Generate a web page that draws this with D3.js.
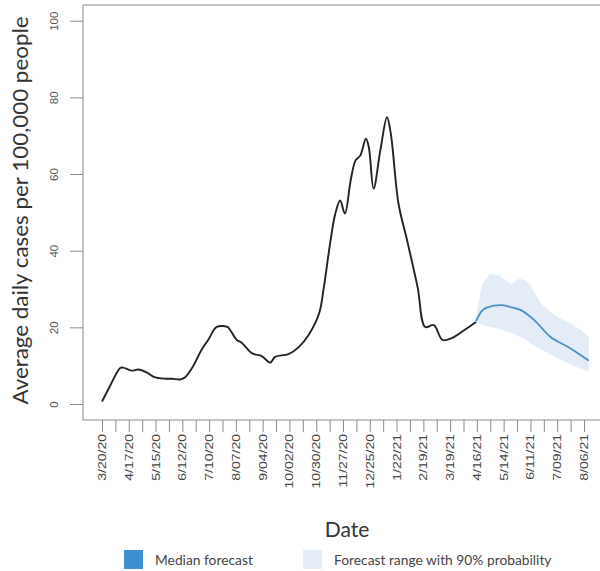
<!DOCTYPE html>
<html>
<head>
<meta charset="utf-8">
<script src="https://cdn.jsdelivr.net/npm/d3@7"></script>
<style>
    body { margin: 0; background: #fff; }
    svg { display: block; }
    .tick text { font-family: "Liberation Sans", Arial, sans-serif; fill: #555; }
    .title { font-family: Lato, "Open Sans", sans-serif; fill: #333; }
    .legend text { font-family: Lato, "Open Sans", sans-serif; fill: #444; font-size: 13.8px; }
</style>
</head>
<body>
<div id="chart"></div>
<script>
// ! OBSERVED CASES ! //
const obsDates = ["2020-03-20", "2020-03-28", "2020-04-08", "2020-04-11", "2020-04-20", "2020-04-27", "2020-05-06",
    "2020-05-14", "2020-05-25", "2020-06-01", "2020-06-10", "2020-06-15", "2020-06-22", "2020-07-02", "2020-07-09",
    "2020-07-18", "2020-07-29", "2020-08-01", "2020-08-08", "2020-08-13", "2020-08-24", "2020-09-03", "2020-09-12",
    "2020-09-17", "2020-10-01", "2020-10-12", "2020-10-22", "2020-11-02", "2020-11-07", "2020-11-14", "2020-11-19",
    "2020-11-24", "2020-11-29", "2020-12-05", "2020-12-10", "2020-12-15", "2020-12-21", "2020-12-24", "2020-12-29",
    "2021-01-05", "2021-01-12", "2021-01-16", "2021-01-24", "2021-02-02", "2021-02-13", "2021-02-21", "2021-03-02",
    "2021-03-11", "2021-03-20", "2021-04-03", "2021-04-15"];
const obsCases = [0.6, 4.5, 9.4, 9.5, 8.7, 9.0, 8.2,
    7.0, 6.6, 6.6, 6.4, 7.0, 9.3, 14.1, 16.7,
    20.1, 20.1, 19.3, 16.7, 16.0, 13.2, 12.5, 10.8,
    12.3, 13.0, 14.9, 18.0, 23.6, 30.5, 42.7, 49.7,
    53.1, 49.7, 58.3, 63.5, 64.8, 69.2, 67.0, 56.2,
    66.1, 74.8, 70.5, 52.3, 42.7, 30.5, 20.1, 20.6,
    16.7, 17.1, 19.3, 21.4];

// ! MEDIAN FORECAST ! //
const fcDates = ["2021-04-15", "2021-04-22", "2021-04-27", "2021-05-11", "2021-05-21", "2021-06-01", "2021-06-15",
    "2021-07-02", "2021-07-23", "2021-08-11"];
const fcMedian = [21.6, 24.5, 25.2, 25.8, 25.3, 24.5, 21.9, 17.5, 14.5, 11.3];

// ! 90% RANGE ! //
const bandDates = ["2021-04-15", "2021-04-20", "2021-04-22", "2021-04-30", "2021-05-09", "2021-05-18", "2021-05-23",
    "2021-05-30", "2021-06-06", "2021-06-11", "2021-06-22", "2021-07-06", "2021-07-20", "2021-08-03", "2021-08-11"];
const bandHigh = [22.5, 29.5, 31.4, 34.0, 33.6, 31.9, 31.4, 32.7, 32.3, 31.0, 26.2, 23.2, 21.4, 19.3, 17.5];
const bandLow = [21.2, 20.8, 20.6, 20.1, 19.6, 18.9, 18.5, 17.7, 16.7, 15.8, 14.3, 12.3, 10.6, 9.2, 8.4];

// ! AXIS TICKS ! //
const yTicks = [0, 20, 40, 60, 80, 100];
const xTickLabels = ["3/20/20", "4/17/20", "5/15/20", "6/12/20", "7/10/20", "8/07/20", "9/04/20", "10/02/20",
    "10/30/20", "11/27/20", "12/25/20", "1/22/21", "2/19/21", "3/19/21", "4/16/21", "5/14/21", "6/11/21",
    "7/09/21", "8/06/21"];

const legendItems = [
    { label: "Median forecast", color: "#3d8fd3" },
    { label: "Forecast range with 90% probability", color: "#e3ecf7" },
];

const width = 600;
const height = 571;
const box = { left: 83, right: 601, top: 5, bottom: 420 };

const parseISO = d3.utcParse("%Y-%m-%d");
const parseLabel = d3.utcParse("%m/%d/%y");
const tickDates = xTickLabels.map(parseLabel);

const svg = d3.select("#chart").append("svg").attr("width", width).attr("height", height);

// ! SCALES ! //
const xScale = d3
    .scaleUtc()
    .domain([tickDates[0], tickDates[tickDates.length - 1]])
    .range([102, 584]);

const yScale = d3.scaleLinear().domain([0, 100]).range([404, 20.7]);

// ! PLOT BOX ! //
svg.append("rect")
    .attr("x", box.left)
    .attr("y", box.top)
    .attr("width", box.right - box.left)
    .attr("height", box.bottom - box.top)
    .attr("fill", "none")
    .attr("stroke", "#8a8a8a")
    .attr("stroke-width", 1);

// ! Y AXIS ! //
const yAxis = d3.axisLeft(yScale).tickValues(yTicks).tickSize(13).tickPadding(8);
const yG = svg.append("g")
    .attr("transform", `translate(${box.left},0)`)
    .call(yAxis);
yG.select(".domain").remove();
yG.selectAll(".tick line").attr("stroke", "#8a8a8a");
yG.selectAll(".tick text")
    .attr("font-size", 11.5)
    .attr("text-anchor", "middle")
    .attr("dy", null)
    .attr("x", null)
    .attr("transform", "translate(-25,0) rotate(-90)")
    .attr("y", 0);

// ! X AXIS (every 14 days, labels every 28) ! //
const start = tickDates[0];
const end = tickDates[tickDates.length - 1];
const minorTicks = d3.utcDay.range(start, d3.utcDay.offset(end, 1), 14);
const xAxis = d3.axisBottom(xScale).tickValues(minorTicks).tickSize(12).tickFormat("");
const xG = svg.append("g")
    .attr("transform", `translate(0,${box.bottom})`)
    .call(xAxis);
xG.select(".domain").remove();
xG.selectAll(".tick line").attr("stroke", "#8a8a8a");

svg.append("g")
    .selectAll("text")
    .data(xTickLabels)
    .enter()
    .append("text")
    .attr("transform", (d, i) => `translate(${xScale(tickDates[i]) + 4},${box.bottom + 14}) rotate(-90) scale(1.22,1)`)
    .attr("text-anchor", "end")
    .attr("font-family", "Liberation Sans, Arial, sans-serif")
    .attr("font-size", 11.5)
    .attr("fill", "#444")
    .text((d) => d);

// ! FORECAST BAND ! //
const band = bandDates.map((d, i) => ({ date: parseISO(d), lo: bandLow[i], hi: bandHigh[i] }));
svg.append("path")
    .datum(band)
    .attr("fill", "#e3ecf7")
    .attr("d", d3.area()
        .x((d) => xScale(d.date))
        .y0((d) => yScale(d.lo))
        .y1((d) => yScale(d.hi))
        .curve(d3.curveLinear));

// ! OBSERVED LINE ! //
const obs = obsDates.map((d, i) => ({ date: parseISO(d), v: obsCases[i] }));
svg.append("path")
    .datum(obs)
    .attr("fill", "none")
    .attr("stroke", "#222")
    .attr("stroke-width", 1.9)
    .attr("stroke-linejoin", "round")
    .attr("d", d3.line()
        .x((d) => xScale(d.date))
        .y((d) => yScale(d.v))
        .curve(d3.curveCatmullRom.alpha(0.5)));

// ! MEDIAN LINE ! //
const fc = fcDates.map((d, i) => ({ date: parseISO(d), v: fcMedian[i] }));
svg.append("path")
    .datum(fc)
    .attr("fill", "none")
    .attr("stroke", "#4a8fc6")
    .attr("stroke-width", 1.8)
    .attr("d", d3.line()
        .x((d) => xScale(d.date))
        .y((d) => yScale(d.v))
        .curve(d3.curveCatmullRom.alpha(0.5)));

// ! TITLES ! //
svg.append("text")
    .attr("class", "title")
    .attr("font-size", 20.5)
    .attr("text-anchor", "middle")
    .attr("textLength", 388)
    .attr("lengthAdjust", "spacingAndGlyphs")
    .attr("transform", `translate(28,${(box.top + box.bottom) / 2 - 2}) rotate(-90)`)
    .text("Average daily cases per 100,000 people");

svg.append("text")
    .attr("class", "title")
    .attr("font-size", 21)
    .attr("text-anchor", "middle")
    .attr("x", 347)
    .attr("y", 537)
    .text("Date");

// ! LEGEND ! //
const legendX = [124, 303];
const legend = svg.append("g").attr("class", "legend");
const items = legend.selectAll("g")
    .data(legendItems)
    .enter()
    .append("g")
    .attr("transform", (d, i) => `translate(${legendX[i]},550)`);
items.append("rect").attr("width", 19).attr("height", 19).attr("fill", (d) => d.color);
items.append("text").attr("x", 31).attr("y", 14.5).text((d) => d.label);
</script>
</body>
</html>
